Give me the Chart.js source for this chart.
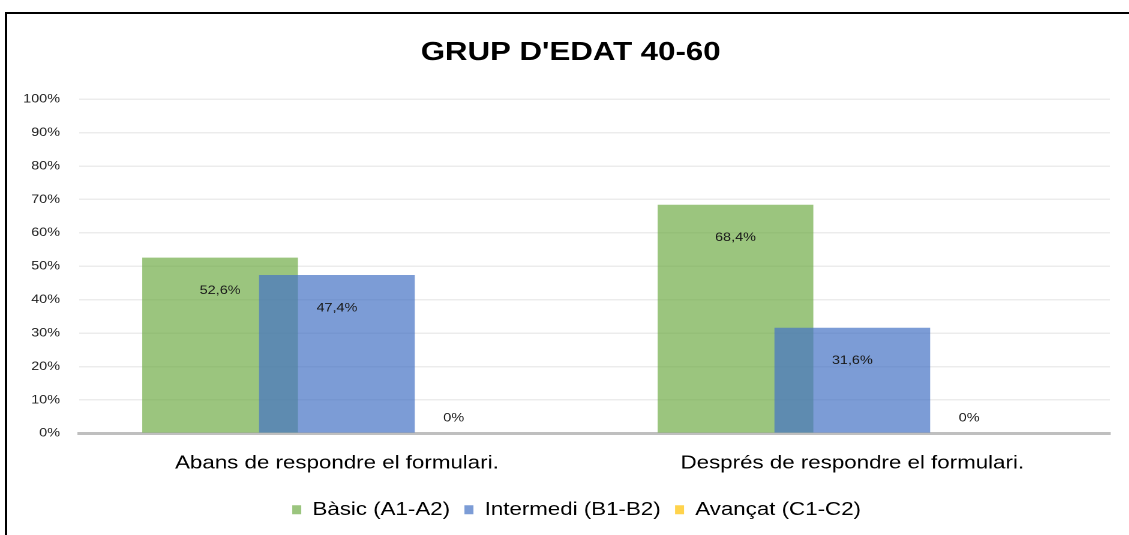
<!DOCTYPE html>
<html lang="ca">
<head>
    <meta charset="UTF-8">
    <title>Grup d'edat 40-60</title>
    <script src="https://cdn.jsdelivr.net/npm/chart.js"></script>
    <style>
        body {
            margin: 0;
            padding: 0;
            background-color: #fff;
            overflow: hidden;
        }
        /* the original picture is stretched sideways, so the chart is drawn narrow and widened */
        .chart-box {
            position: absolute;
            left: 0;
            top: 0;
            width: 941px;
            height: 535px;
            transform: scaleX(1.2);
            transform-origin: 0 0;
        }
        .frame {
            position: absolute;
            left: 5px;
            top: 12px;
            width: 1140px;
            height: 540px;
            border-left: 2px solid #000;
            border-top: 2px solid #000;
            pointer-events: none;
        }
    </style>
</head>
<body>
    <div class="chart-box">
        <canvas id="chart" width="941" height="535"></canvas>
    </div>
    <div class="frame"></div>

    <script>
        // chart data
        const categories = ["Abans de respondre el formulari.", "Després de respondre el formulari."];
        const seriesNames = ["Bàsic (A1-A2)", "Intermedi (B1-B2)", "Avançat (C1-C2)"];
        const basicValues = [52.6, 68.4];
        const intermediValues = [47.4, 31.6];
        const avancatValues = [0, 0];
        const yTicks = [0, 10, 20, 30, 40, 50, 60, 70, 80, 90, 100];

        const fontFamily = "'Liberation Sans', Arial, sans-serif";

        // title and legend sit a bit right of the plot centre in the original
        const shiftBoxes = {
            id: "shiftBoxes",
            afterLayout(chart) {
                if (chart.titleBlock) {
                    chart.titleBlock.left += 13;
                    chart.titleBlock.right += 13;
                }
                if (chart.legend) {
                    chart.legend.left += 18;
                    chart.legend.right += 18;
                }
            }
        };

        // draw datasets in index order so the blue bar sits over the green one
        const drawInOrder = {
            id: "drawInOrder",
            beforeDatasetDraw() {
                return false;
            },
            afterDatasetsDraw(chart) {
                const area = chart.chartArea;
                const ctx = chart.ctx;
                chart.data.datasets.forEach((ds, i) => {
                    const meta = chart.getDatasetMeta(i);
                    if (!meta.visible) return;
                    ctx.save();
                    ctx.beginPath();
                    ctx.rect(area.left, area.top - 2, area.right - area.left, area.bottom - area.top + 2);
                    ctx.clip();
                    meta.controller.draw();
                    ctx.restore();
                });
            }
        };

        // value labels like the original (inside near the top, above when zero)
        const valueLabels = {
            id: "valueLabels",
            afterDatasetsDraw(chart) {
                const ctx = chart.ctx;
                ctx.save();
                ctx.font = "12px " + fontFamily;
                ctx.fillStyle = "#1a1a1a";
                ctx.textAlign = "center";
                ctx.textBaseline = "middle";
                chart.data.datasets.forEach((ds, i) => {
                    const meta = chart.getDatasetMeta(i);
                    meta.data.forEach((bar, j) => {
                        const v = ds.data[j];
                        const text = v.toFixed(v === 0 ? 0 : 1).replace(".", ",") + "%";
                        const y = v > 0 ? bar.y + 33 : bar.y - 15;
                        ctx.fillText(text, bar.x, y);
                    });
                });
                ctx.restore();
            }
        };

        new Chart(document.getElementById("chart"), {
            type: "bar",
            data: {
                labels: categories,
                datasets: [
                    {
                        label: seriesNames[0],
                        data: basicValues,
                        backgroundColor: "rgba(112, 173, 71, 0.7)"
                    },
                    {
                        label: seriesNames[1],
                        data: intermediValues,
                        backgroundColor: "rgba(68, 114, 196, 0.7)"
                    },
                    {
                        label: seriesNames[2],
                        data: avancatValues,
                        backgroundColor: "rgba(255, 192, 0, 0.7)"
                    }
                ]
            },
            options: {
                responsive: false,
                animation: false,
                devicePixelRatio: 2,
                categoryPercentage: 0.68,
                barPercentage: 1.333,
                layout: {
                    padding: { left: 0, right: 16, top: 0, bottom: 6 }
                },
                plugins: {
                    title: {
                        display: true,
                        text: "GRUP D'EDAT 40-60",
                        color: "#000",
                        font: { family: fontFamily, size: 26, weight: "bold" },
                        padding: { top: 37, bottom: 31 }
                    },
                    legend: {
                        position: "bottom",
                        labels: {
                            boxWidth: 7.5,
                            boxHeight: 9,
                            padding: 12,
                            color: "#000",
                            font: { family: fontFamily, size: 18.6 },
                            sort: (a, b) => a.datasetIndex - b.datasetIndex
                        }
                    },
                    tooltip: { enabled: false }
                },
                scales: {
                    x: {
                        grid: { display: false },
                        border: { color: "#bfbfbf", width: 3 },
                        ticks: {
                            color: "#000",
                            padding: 11,
                            font: { family: fontFamily, size: 18.6 }
                        },
                        afterFit(scale) {
                            scale.height = 55;
                        }
                    },
                    y: {
                        min: yTicks[0],
                        max: yTicks[yTicks.length - 1],
                        afterBuildTicks(scale) {
                            scale.ticks = yTicks.map(v => ({ value: v }));
                        },
                        grid: { color: "#ececec", lineWidth: 1.5, drawTicks: false },
                        border: { display: false },
                        ticks: {
                            color: "#222",
                            padding: 16,
                            font: { family: fontFamily, size: 12 },
                            callback: v => v + "%"
                        },
                        afterFit(scale) {
                            scale.width = 66;
                        }
                    }
                }
            },
            plugins: [shiftBoxes, drawInOrder, valueLabels]
        });
    </script>
</body>
</html>
